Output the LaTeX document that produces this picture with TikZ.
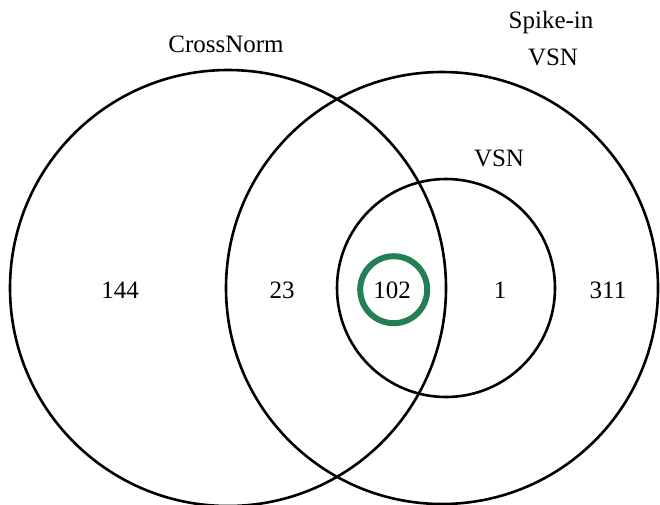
\documentclass[tikz,border=0pt]{standalone}
\usepackage{fontspec}
\setmainfont{Liberation Serif}
\definecolor{hlgreen}{RGB}{36,128,84}
\begin{document}
\begin{tikzpicture}[x=1pt,y=-1pt,
  setcircle/.style={draw=black,line width=2.6pt},
  countlabel/.style={font=\fontsize{25}{30}\selectfont,inner sep=0pt},
  setlabel/.style={font=\fontsize{25}{30}\selectfont,inner sep=0pt,anchor=base},
  highlight/.style={draw=hlgreen,line width=6pt}]
\useasboundingbox (0,0) rectangle (660,504);
\begin{scope}
\clip (0,0) rectangle (660,504);
% the three sets
\draw[setcircle] (228,288) circle[radius=218];
\draw[setcircle] (442,288) circle[radius=216];
\draw[setcircle] (446,288) circle[radius=109];
\end{scope}
% set names
\node[setlabel] (lcross) at (226,52.3) {CrossNorm};
\node[setlabel] (lspike) at (551,28.3) {Spike-in};
\node[setlabel] (lspikevsn) at (553,65.7) {VSN};
\node[setlabel] (lvsn) at (499,166) {VSN};
% region counts
\node[countlabel] (n144) at (120,290.5) {144};
\node[countlabel] (n23) at (282,290.5) {23};
\node[countlabel] (n102) at (392,290.5) {102};
\node[countlabel] (n1) at (500,290.5) {1};
\node[countlabel] (n311) at (608,290.5) {311};
% marked common region
\draw[highlight] (393.7,289.7) circle[radius=33.5];
\end{tikzpicture}
\end{document}
